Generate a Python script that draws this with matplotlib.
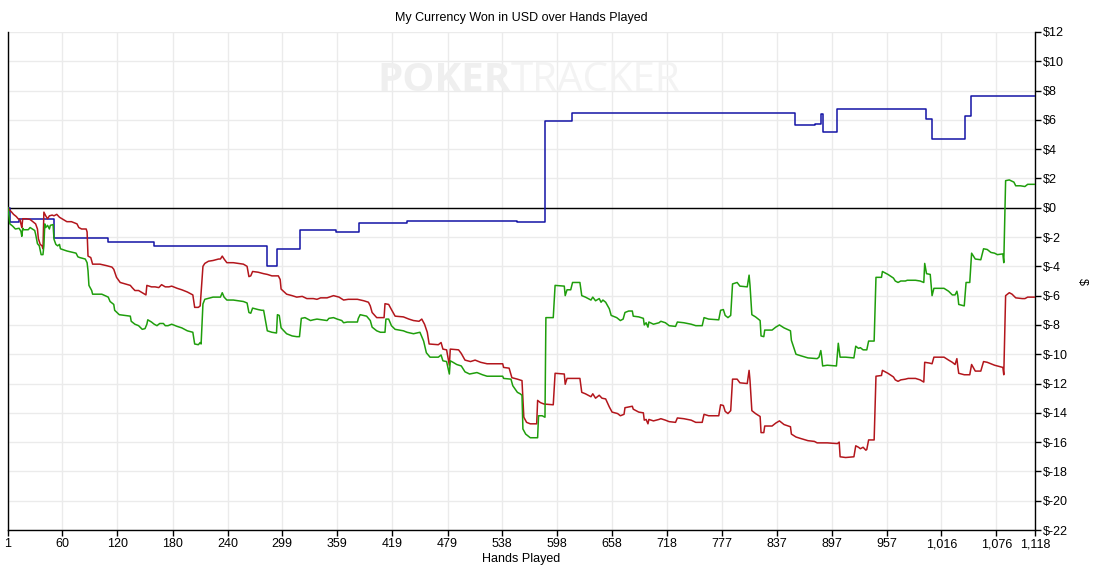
import numpy as np
import matplotlib.pyplot as plt
from matplotlib.ticker import FixedLocator, FuncFormatter

# hands / dollars
blue_h = [1, 3, 13, 51, 110, 160, 283, 294, 319, 358, 383, 435, 555, 585, 614,
          857, 879, 885, 887, 903, 999, 1006, 1042, 1048, 1118]
blue_v = [0, -0.95, -0.75, -2.05, -2.35, -2.6, -4.0, -2.8, -1.55, -1.66, -1.05,
          -0.87, -1.0, 5.9, 6.5, 5.65, 5.75, 6.4, 5.2, 6.75, 6.07, 4.69, 6.28,
          7.62, 7.62]

green_h = [1, 3, 6, 9, 13, 15, 16, 17, 18, 23, 25, 30, 31, 33, 35, 37, 39, 40, 41,
           42, 44, 46, 47, 50, 51, 53, 55, 57, 58, 65, 75, 77, 79, 85, 87, 88, 89,
           92, 93, 103, 110, 112, 116, 117, 122, 134, 135, 139, 143, 147, 150, 152,
           153, 157, 160, 163, 166, 170, 172, 175, 179, 185, 190, 196, 202, 204,
           208, 210, 211, 213, 215, 224, 228, 232, 234, 236, 239, 246, 257, 261,
           263, 265, 267, 273, 277, 279, 283, 288, 293, 294, 296, 298, 304, 310,
           315, 318, 320, 324, 330, 333, 337, 348, 350, 355, 359, 364, 366, 370,
           381, 382, 384, 391, 395, 397, 402, 406, 411, 412, 415, 418, 422, 431,
           435, 442, 449, 453, 456, 460, 469, 472, 474, 478, 481, 482, 485, 489,
           494, 498, 503, 507, 511, 517, 522, 539, 540, 548, 550, 555, 558, 560,
           561, 564, 569, 577, 578, 582, 585, 586, 594, 596, 606, 607, 609, 613,
           615, 623, 625, 629, 635, 637, 640, 644, 646, 648, 651, 655, 657, 663,
           667, 670, 672, 676, 680, 681, 687, 692, 693, 695, 697, 698, 703, 709,
           711, 716, 720, 727, 729, 736, 744, 749, 756, 758, 763, 774, 776, 779,
           781, 784, 787, 789, 794, 797, 805, 807, 808, 810, 814, 819, 820, 823,
           824, 832, 836, 840, 845, 852, 853, 858, 863, 871, 881, 883, 885, 886,
           887, 892, 902, 904, 906, 912, 921, 923, 926, 928, 931, 935, 937, 943,
           945, 951, 952, 958, 964, 966, 969, 972, 977, 979, 988, 993, 997, 998,
           1000, 1004, 1006, 1008, 1019, 1024, 1028, 1031, 1033, 1034, 1035, 1041,
           1043, 1047, 1049, 1053, 1059, 1062, 1066, 1070, 1074, 1077, 1083, 1084,
           1086, 1090, 1095, 1097, 1102, 1107, 1110, 1118]
green_v = [0, -1.1, -1.25, -1.45, -1.4, -1.6, -1.95, -1.4, -1.5, -1.5, -1.35, -1.55,
           -1.8, -2.45, -2.6, -3.2, -3.2, -2.6, -1.1, -1.35, -1.2, -1.45, -1.2,
           -1.15, -2.15, -2.5, -2.6, -2.5, -2.8, -2.95, -3.1, -3.35, -3.4, -3.5,
           -3.75, -4.3, -5.3, -5.65, -5.9, -5.9, -6.1, -6.4, -6.6, -7.0, -7.3,
           -7.4, -7.75, -7.95, -8.05, -8.3, -8.25, -7.95, -7.65, -7.8, -7.95,
           -8.05, -7.9, -7.9, -8.05, -8.05, -7.95, -8.1, -8.2, -8.4, -8.5, -9.3,
           -9.35, -9.2, -9.3, -6.57, -6.25, -6.1, -6.1, -6.1, -5.8, -6.1, -6.3,
           -6.3, -6.4, -6.5, -7.15, -7.2, -6.85, -6.95, -7.0, -7.0, -8.4, -8.5,
           -8.55, -7.3, -7.35, -8.2, -8.6, -8.75, -8.8, -8.8, -7.55, -7.5, -7.7,
           -7.65, -7.6, -7.7, -7.55, -7.5, -7.6, -7.7, -7.85, -7.8, -7.8, -7.55,
           -7.3, -7.4, -7.7, -8.15, -8.4, -8.5, -8.5, -7.6, -7.6, -8.05, -8.3,
           -8.4, -8.5, -8.6, -8.5, -9.1, -9.9, -10.2, -10.2, -10.05, -10.45, -10.5,
           -11.35, -10.45, -10.55, -10.7, -10.8, -11.2, -11.35, -11.3, -11.25,
           -11.4, -11.5, -11.5, -11.65, -11.7, -12.15, -12.6, -12.7, -12.8, -15.1,
           -15.45, -15.7, -15.7, -14.2, -14.2, -14.3, -7.5, -7.5, -5.3, -5.35,
           -6.0, -5.6, -5.6, -5.1, -5.1, -6.0, -6.1, -6.3, -6.1, -6.35, -6.2,
           -6.45, -6.3, -6.45, -6.9, -7.35, -7.5, -7.7, -7.6, -7.15, -7.05, -7.05,
           -7.4, -7.45, -7.55, -8.0, -7.85, -8.15, -7.8, -7.95, -7.85, -7.75,
           -7.85, -8.05, -8.1, -7.8, -7.85, -7.95, -8.05, -8.05, -7.5, -7.6, -7.65,
           -7.0, -6.95, -7.35, -7.5, -7.35, -5.2, -5.1, -5.35, -5.4, -4.6, -5.3,
           -7.3, -7.45, -7.7, -8.75, -8.8, -8.35, -8.35, -8.15, -8.0, -8.2, -8.4,
           -9.05, -10.0, -10.1, -10.25, -10.3, -10.2, -9.75, -10.2, -10.8, -10.75,
           -10.8, -9.25, -10.2, -10.2, -10.25, -9.45, -9.6, -9.55, -9.7, -9.7,
           -9.1, -9.1, -4.75, -4.75, -4.35, -4.55, -4.8, -5.0, -5.1, -5.0, -5.0,
           -4.95, -4.95, -5.0, -5.1, -3.8, -4.5, -4.55, -6.0, -5.5, -5.5, -5.7,
           -5.95, -5.95, -5.7, -6.0, -6.6, -6.7, -5.1, -5.1, -3.1, -3.5, -3.55,
           -2.8, -2.85, -3.05, -3.1, -3.2, -3.15, -3.75, 1.85, 1.9, 1.75, 1.5,
           1.5, 1.45, 1.6, 1.6]

red_h = [1, 2, 5, 7, 10, 12, 14, 15, 16, 17, 21, 25, 29, 31, 33, 34, 36, 38, 39,
         40, 42, 44, 46, 49, 51, 54, 57, 61, 65, 70, 76, 78, 81, 86, 87, 88, 91,
         93, 101, 108, 114, 116, 119, 123, 134, 136, 139, 143, 147, 151, 152, 157,
         161, 165, 168, 172, 176, 179, 185, 190, 196, 202, 204, 208, 210, 213,
         215, 219, 224, 230, 232, 234, 236, 239, 246, 257, 261, 263, 265, 267,
         273, 279, 283, 288, 295, 297, 298, 304, 310, 315, 321, 326, 333, 337,
         341, 348, 355, 361, 366, 371, 381, 388, 393, 395, 397, 402, 410, 411,
         415, 418, 422, 431, 437, 442, 448, 451, 454, 457, 459, 469, 472, 474,
         478, 481, 482, 491, 494, 498, 504, 509, 515, 522, 539, 540, 546, 549,
         555, 560, 562, 565, 569, 576, 577, 580, 584, 594, 596, 606, 607, 609,
         623, 625, 629, 635, 637, 640, 644, 647, 651, 655, 658, 664, 667, 671,
         672, 676, 680, 681, 687, 692, 693, 695, 697, 698, 703, 709, 711, 716,
         720, 727, 729, 736, 744, 749, 756, 758, 763, 774, 776, 779, 781, 784,
         787, 789, 794, 797, 805, 807, 808, 810, 814, 819, 820, 823, 824, 832,
         836, 840, 845, 852, 853, 858, 863, 871, 878, 881, 892, 903, 905, 906,
         912, 921, 923, 926, 928, 931, 934, 935, 937, 943, 945, 951, 952, 958,
         964, 966, 969, 972, 977, 980, 988, 993, 997, 998, 1003, 1006, 1008,
         1019, 1024, 1028, 1031, 1033, 1034, 1035, 1041, 1047, 1049, 1053, 1059,
         1062, 1066, 1070, 1074, 1077, 1083, 1084, 1086, 1090, 1093, 1097, 1104,
         1107, 1110, 1118]
red_v = [0, -0.1, -0.3, -0.45, -0.6, -0.75, -0.8, -1.1, -1.35, -0.75, -0.75, -0.8,
         -1.0, -1.1, -1.45, -2.1, -2.5, -2.6, -2.8, -0.3, -0.55, -0.75, -0.55,
         -0.5, -0.55, -0.45, -0.65, -0.8, -0.95, -0.95, -1.1, -1.35, -1.45, -1.45,
         -1.65, -3.3, -3.4, -3.85, -3.85, -3.95, -4.05, -4.2, -4.75, -5.1, -5.3,
         -5.45, -5.65, -5.65, -5.8, -5.95, -5.3, -5.4, -5.4, -5.45, -5.25, -5.4,
         -5.4, -5.35, -5.5, -5.6, -5.75, -5.95, -6.8, -6.8, -6.7, -4.0, -3.8,
         -3.65, -3.6, -3.5, -3.5, -3.3, -3.5, -3.75, -3.75, -3.85, -4.0, -4.7,
         -4.65, -4.35, -4.4, -4.5, -4.55, -4.65, -4.65, -4.9, -5.55, -5.9, -6.0,
         -6.1, -6.05, -6.2, -6.2, -6.25, -6.15, -6.15, -6.0, -6.1, -6.3, -6.25,
         -6.25, -6.35, -6.45, -6.7, -7.15, -7.5, -7.5, -6.55, -6.6, -6.95, -7.4,
         -7.45, -7.6, -7.7, -7.75, -7.6, -7.95, -8.5, -9.3, -9.35, -9.2, -9.65,
         -9.7, -10.75, -9.65, -9.7, -9.95, -10.4, -10.5, -10.4, -10.55, -10.65,
         -10.65, -10.9, -10.95, -11.6, -11.7, -11.8, -14.3, -14.65, -14.75,
         -14.75, -13.15, -13.3, -13.4, -13.45, -11.3, -11.35, -12.05, -11.65,
         -11.65, -12.6, -12.7, -12.9, -12.7, -13.0, -12.8, -13.0, -13.05, -13.6,
         -13.95, -14.05, -14.2, -14.1, -13.65, -13.6, -13.55, -13.75, -13.95,
         -14.0, -14.5, -14.45, -14.75, -14.45, -14.55, -14.45, -14.4, -14.5,
         -14.6, -14.65, -14.35, -14.4, -14.5, -14.65, -14.65, -14.1, -14.2,
         -14.2, -13.45, -13.5, -13.9, -14.05, -13.85, -11.7, -11.7, -11.95,
         -12.0, -11.1, -11.8, -13.85, -14.05, -14.25, -15.35, -15.35, -14.9,
         -14.9, -14.7, -14.55, -14.8, -14.95, -15.45, -15.65, -15.75, -15.9,
         -15.95, -16.05, -16.05, -16.1, -16.0, -17.0, -17.05, -17.0, -16.25,
         -16.35, -16.45, -16.35, -16.55, -16.5, -15.85, -15.85, -11.5, -11.45,
         -11.1, -11.3, -11.55, -11.75, -11.85, -11.75, -11.7, -11.65, -11.65,
         -11.75, -11.9, -10.55, -10.6, -10.65, -10.2, -10.2, -10.4, -10.55,
         -10.7, -10.3, -10.85, -11.3, -11.4, -11.4, -10.7, -11.15, -11.15, -10.5,
         -10.55, -10.65, -10.75, -10.8, -10.9, -11.4, -6.0, -5.8, -5.9, -6.15,
         -6.2, -6.2, -6.1, -6.1]

x_ticks = [1, 60, 120, 180, 240, 299, 359, 419, 479, 538, 598, 658, 718, 777,
           837, 897, 957, 1016, 1076, 1118]
y_ticks = list(range(-22, 13, 2))

plt.rcParams['font.family'] = ['Liberation Sans', 'DejaVu Sans']

fig = plt.figure(figsize=(10.99, 5.69), dpi=100)
ax = fig.add_axes([0.0073, 0.0685, 0.9345, 0.8753])

# watermark
fig.text(0.4645, 0.858, 'POKER', ha='right', va='center', fontsize=29,
         fontweight='bold', color='#efefef', family='Open Sans', zorder=0)
fig.text(0.4645, 0.858, 'TRACKER', ha='left', va='center', fontsize=29,
         color='#f3f3f3', family='Open Sans', zorder=0)

ax.patch.set_alpha(0)
ax.grid(True, color='#ebebeb', linewidth=1)
ax.set_axisbelow(True)
ax.axhline(0, color='black', linewidth=1, zorder=2)

ax.plot(blue_h, blue_v, color='#1414a6', linewidth=1.1, drawstyle='steps-post', zorder=3)
ax.plot(red_h, red_v, color='#b3161c', linewidth=1.1, zorder=3)
ax.plot(green_h, green_v, color='#1f9e0c', linewidth=1.1, zorder=4)

ax.set_xlim(1, 1118)
ax.set_ylim(-22, 12)
ax.xaxis.set_major_locator(FixedLocator(x_ticks))
ax.xaxis.set_major_formatter(FuncFormatter(lambda v, p: f'{int(v):,}'))
ax.yaxis.set_major_locator(FixedLocator(y_ticks))
ax.yaxis.set_major_formatter(FuncFormatter(lambda v, p: f'${int(v)}'))
ax.yaxis.tick_right()
ax.yaxis.set_label_position('right')
ax.tick_params(axis='both', labelsize=9, length=4, width=1, color='black', pad=2)
ax.spines['top'].set_visible(False)
for s in ['left', 'right', 'bottom']:
    ax.spines[s].set_color('black')
    ax.spines[s].set_linewidth(1)

ax.set_ylabel('$', fontsize=9, rotation=-90, labelpad=14)
ax.set_xlabel('Hands Played', fontsize=9, labelpad=2)
ax.set_title('My Currency Won in USD over Hands Played', fontsize=9, pad=8)

plt.savefig('out.png', dpi=100)
